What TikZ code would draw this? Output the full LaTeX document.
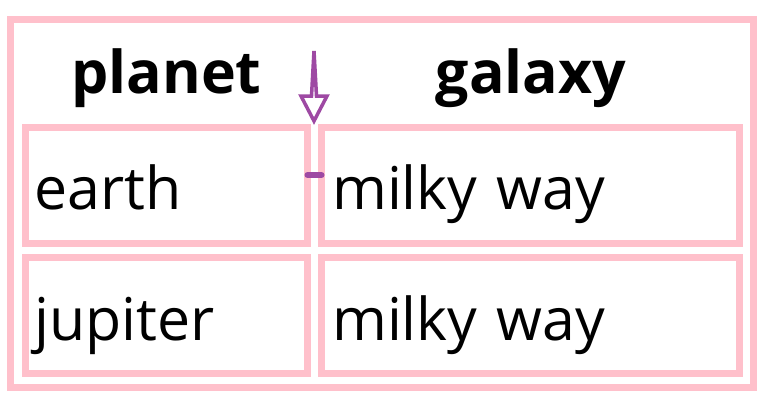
\documentclass[tikz,border=0pt]{standalone}
\usepackage{fontspec}
\setmainfont{Open Sans}
\definecolor{cellpink}{HTML}{FFC0CB}
\definecolor{markpurple}{HTML}{9E49A3}
\tikzset{
  frame/.style={draw=cellpink, line width=7pt, inner sep=0pt, outer sep=0pt},
  head/.style={anchor=base, inner sep=0pt, font=\fontsize{59}{62}\selectfont\bfseries},
  body/.style={anchor=base west, inner sep=0pt, font=\fontsize{59}{62}\selectfont},
  marker/.style={draw=markpurple, line width=3.5pt, line join=miter, fill=white},
  tick/.style={draw=markpurple, line width=6pt, line cap=round}
}
\begin{document}
\begin{tikzpicture}[x=1pt, y=-1pt]
\useasboundingbox (0,0) rectangle (780,407);
\fill[white] (0,0) rectangle (780,407);
% outer table frame
\draw[frame] (10.5,19.5) rectangle (753.5,387);
% cells
\draw[frame] (25.5,127.5) rectangle (307.5,243.5);
\draw[frame] (321.5,127.5) rectangle (739.5,243.5);
\draw[frame] (25.5,257.5) rectangle (307.5,373.5);
\draw[frame] (321.5,257.5) rectangle (739.5,373.5);
% header texts
\node[head] (hplanet) at (166.5,93) {planet};
\node[head] (hgalaxy) at (531,93) {galaxy};
% body texts
\node[body] (earth) at (34,209) {earth};
\node[body] (mw1) at (332,209) {milky\hspace{0.32em}way};
\node[body] (jupiter) at (34,340) {jupiter};
\node[body] (mw2) at (332,340) {milky\hspace{0.32em}way};
% arrow marker
\draw[marker] (314,51) -- (316.5,96) -- (327,96) -- (314,121) -- (301,96) -- (311.5,96) -- cycle;
% tick marker
\coordinate (tA) at (307.5,175);
\coordinate (tB) at (321.5,175);
\draw[tick] (tA) -- (tB);
\end{tikzpicture}
\end{document}
